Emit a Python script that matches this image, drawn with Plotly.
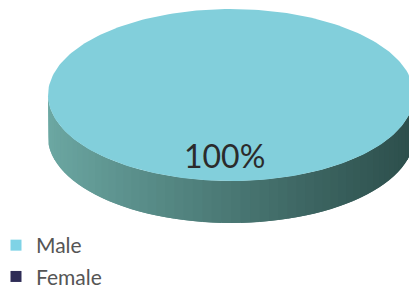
import numpy as np
import plotly.graph_objects as go

# ---- data ----
categories = ["Male", "Female"]
shares = [100, 0]
slice_colors = ["#82cfdb", "#2b2a52"]
legend_colors = ["#7fd3e6", "#2e2c56"]
label_texts = ["100%"]

# ---- geometry (pixel space, y down; page shows figure offset by 8px) ----
W, H = 409, 286
cx, cy = 223, 87
rx, ry = 183, 86
depth = 42

def lerp_color(c1, c2, f):
    a = [int(c1[i:i + 2], 16) for i in (1, 3, 5)]
    b = [int(c2[i:i + 2], 16) for i in (1, 3, 5)]
    return "rgb(%d,%d,%d)" % tuple(round(a[k] + (b[k] - a[k]) * f) for k in range(3))

fig = go.Figure()

total = float(sum(shares))
start = 0.0
for cat, val in zip(categories, shares):
    if val <= 0:
        continue
    frac = val / total
    t0, t1 = start, start + 2 * np.pi * frac
    lo, hi = max(t0, 0.0), min(t1, np.pi)
    if hi > lo:
        n = 60
        ts = np.linspace(lo, hi, n + 1)
        for i in range(n):
            ta, tb = ts[i], ts[min(i + 2, n)]
            tt = np.linspace(ta, tb, 6)
            xs = list(cx + rx * np.cos(tt)) + list(cx + rx * np.cos(tt[::-1]))
            ys = list(cy + ry * np.sin(tt)) + list(cy + ry * np.sin(tt[::-1]) + depth)
            f = (np.cos((ts[i] + ts[i + 1]) / 2) + 1) / 2
            col = lerp_color("#6ca8a3", "#2c4e4b", f ** 0.9)
            fig.add_trace(go.Scatter(x=xs, y=ys, fill="toself", mode="lines",
                                     line=dict(width=0, color=col), fillcolor=col,
                                     hoverinfo="skip", showlegend=False))
    start = t1

start = 0.0
for cat, val, col in zip(categories, shares, slice_colors):
    if val <= 0:
        continue
    frac = val / total
    t0, t1 = start, start + 2 * np.pi * frac
    ts = np.linspace(t0, t1, 240)
    xs = list(cx + rx * np.cos(ts))
    ys = list(cy + ry * np.sin(ts))
    if frac < 1:
        xs = [cx] + xs + [cx]
        ys = [cy] + ys + [cy]
    fig.add_trace(go.Scatter(x=xs, y=ys, fill="toself", mode="lines",
                             line=dict(width=0, color=col), fillcolor=col,
                             hoverinfo="skip", showlegend=False))
    start = t1

for i, (cat, col) in enumerate(zip(categories, legend_colors)):
    fig.add_trace(go.Scatter(x=[None], y=[None], mode="markers", name=cat,
                             legendgroup=cat,
                             marker=dict(symbol="square", size=11, color=col)))

fig.add_annotation(x=216, y=147, text=label_texts[0], showarrow=False,
                   font=dict(size=32, color="#2b2b2b", family="Lato, Open Sans, sans-serif"))

fig.update_layout(
    width=W, height=H,
    margin=dict(l=0, r=0, t=0, b=0, autoexpand=False),
    paper_bgcolor="white", plot_bgcolor="white",
    xaxis=dict(range=[0, W], visible=False, fixedrange=True),
    yaxis=dict(range=[H, 0], visible=False, fixedrange=True),
    legend=dict(x=-12 / W, y=1 - 217 / H, xanchor="left", yanchor="top",
                font=dict(size=21, color="#555555", family="Lato, Open Sans, sans-serif"),
                tracegroupgap=1, itemwidth=30, bgcolor="rgba(0,0,0,0)"),
    showlegend=True,
)

fig.write_html("out.html")
